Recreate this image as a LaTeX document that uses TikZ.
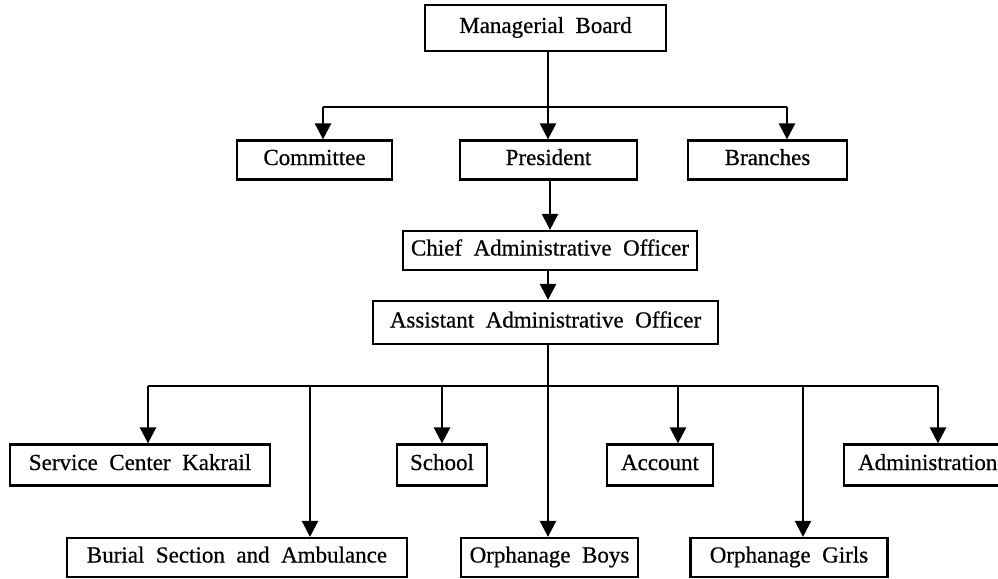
\documentclass[tikz,border=0pt]{standalone}
\usepackage{fontspec}
\setmainfont{Liberation Serif}[WordSpace=2,FakeBold=0.6]
\usetikzlibrary{arrows.meta}
\begin{document}
\begin{tikzpicture}[x=1pt,y=-1pt,
  box/.style={draw, line width=2.2pt, minimum height=39pt, inner sep=0pt, text height=15pt, text depth=5pt, font=\fontsize{23}{26}\selectfont},
  link/.style={line width=2.4pt},
  arr/.style={line width=2.4pt, -{Triangle[width=16pt,length=16pt]}}]
\useasboundingbox (0,0) rectangle (998,578);
% nodes
\node[box, minimum width=241pt, minimum height=46pt] (mb) at (545.5,28) {Managerial Board};
\node[box, minimum width=155pt] (com) at (314.5,160) {Committee};
\node[box, minimum width=177pt] (pres) at (548.5,160) {President};
\node[box, minimum width=159pt] (br) at (767.5,160) {Branches};
\node[box, minimum width=294pt] (cao) at (550,250.5) {Chief Administrative Officer};
\node[box, minimum width=345pt, minimum height=43pt] (aao) at (545.5,322.5) {Assistant Administrative Officer};
\node[box, minimum width=260pt, minimum height=41pt] (sck) at (140,465) {Service Center Kakrail};
\node[box, minimum width=90pt, minimum height=41pt] (sch) at (442,465) {School};
\node[box, minimum width=106pt, minimum height=41pt] (acc) at (660,465) {Account};
\node[box, minimum width=162pt, minimum height=41pt, anchor=west, inner xsep=14pt] (adm) at (843,465) {\makebox[134pt][l]{Administration}};
\node[box, minimum width=340pt] (bur) at (237,557.5) {Burial Section and Ambulance};
\node[box, minimum width=177pt] (ob) at (549.5,557.5) {Orphanage Boys};
\node[box, minimum width=197pt] (og) at (789,557.5) {Orphanage Girls};
% branch coordinates
\coordinate (trunk) at (548,51);
\coordinate (t1) at (323,107);
\coordinate (t2) at (787,107);
\coordinate (b1) at (148,386);
\coordinate (b2) at (310,386);
\coordinate (b3) at (442,386);
\coordinate (b4) at (678,386);
\coordinate (b5) at (803,386);
\coordinate (b6) at (938,386);
\coordinate (b0) at (548,344);
% connectors
\draw[arr] (trunk) -- (trunk |- pres.north);
\draw[link] (t1) -- (t2);
\draw[arr] (t1) -- (t1 |- com.north);
\draw[arr] (t2) -- (t2 |- br.north);
\draw[arr] (pres.south -| cao.north) -- (cao.north);
\draw[arr] (cao.south -| trunk) -- (trunk |- aao.north);
\draw[arr] (b0) -- (b0 |- ob.north);
\draw[link] (b1) -- (b6);
\draw[arr] (b1) -- (b1 |- sck.north);
\draw[arr] (b2) -- (b2 |- bur.north);
\draw[arr] (b3) -- (b3 |- sch.north);
\draw[arr] (b4) -- (b4 |- acc.north);
\draw[arr] (b5) -- (b5 |- og.north);
\draw[arr] (b6) -- (b6 |- adm.north);
\end{tikzpicture}
\end{document}
